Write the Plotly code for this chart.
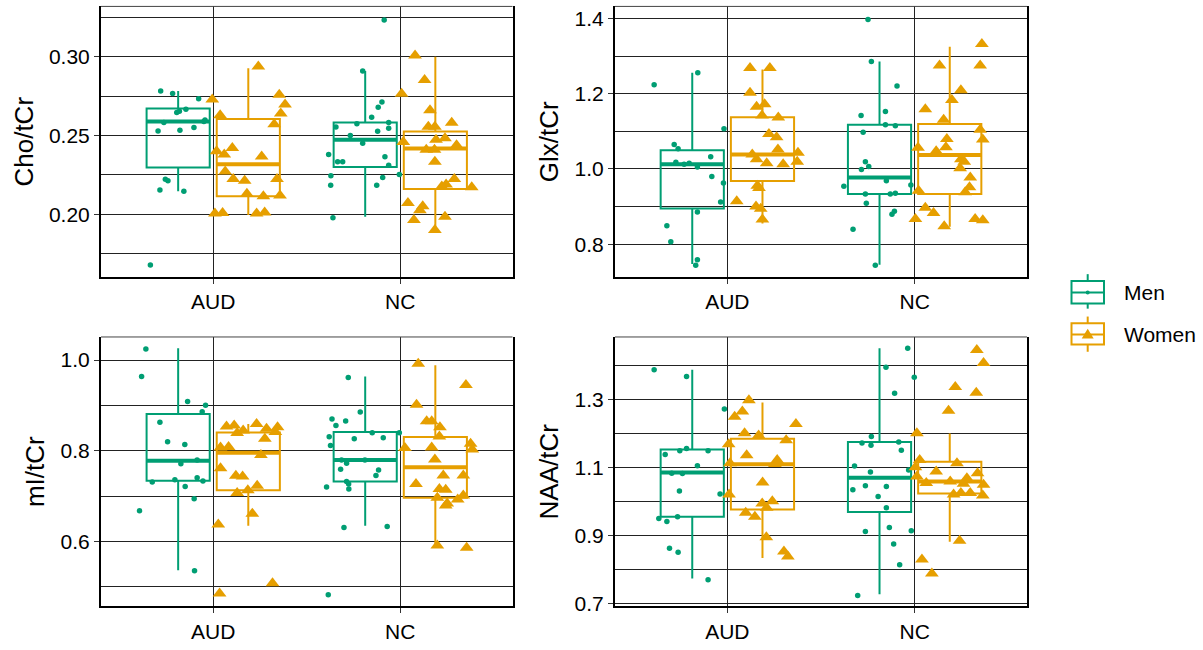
import plotly.graph_objects as go

CATEGORIES = ["AUD", "NC"]
GROUPS = ["Men", "Women"]
METRICS = ["Cho/tCr", "Glx/tCr", "mI/tCr", "NAA/tCr"]

# Box statistics per category (AUD, NC): [lower whisker, Q1, median, Q3, upper whisker]
CHO_MEN_BOX = [[0.2146, 0.2296, 0.2588, 0.2671, 0.2783], [0.1983, 0.2300, 0.2473, 0.2583, 0.2910]]
CHO_WOMEN_BOX = [[0.1994, 0.2113, 0.2317, 0.2604, 0.2927], [0.1900, 0.2160, 0.2417, 0.2525, 0.3000]]
GLX_MEN_BOX = [[0.7473, 0.8952, 1.0124, 1.0500, 1.2556], [0.7456, 0.9337, 0.9774, 1.1174, 1.2854]]
GLX_WOMEN_BOX = [[0.8550, 0.9678, 1.0387, 1.1375, 1.2644], [0.8462, 0.9337, 1.0369, 1.1192, 1.3248]]
MI_MEN_BOX = [[0.5370, 0.7340, 0.7783, 0.8812, 1.0260], [0.6348, 0.7326, 0.7797, 0.8413, 0.9638]]
MI_WOMEN_BOX = [[0.6348, 0.7130, 0.7957, 0.8406, 0.8594], [0.5913, 0.6964, 0.7638, 0.8304, 0.9884]]
NAA_MEN_BOX = [[0.7744, 0.9560, 1.0855, 1.1531, 1.3880], [0.7280, 0.9696, 1.0700, 1.1754, 1.4507]]
NAA_WOMEN_BOX = [[0.8343, 0.9773, 1.1097, 1.1850, 1.2913], [0.8826, 1.0237, 1.0594, 1.1174, 1.2000]]

# Jittered individual observations (x in category units: AUD = 1, NC = 2)
CHO_MEN_AUD_X = [0.719, 0.783, 0.922, 0.805, 0.819, 0.854, 0.736, 0.950, 0.705, 0.822, 0.897, 0.744, 0.758, 0.715, 0.843, 0.664, 0.956]
CHO_MEN_AUD_Y = [0.2783, 0.2766, 0.2733, 0.2646, 0.2654, 0.2666, 0.2583, 0.2588, 0.2529, 0.2533, 0.2550, 0.2221, 0.2213, 0.2154, 0.2146, 0.1677, 0.2598]
CHO_WOMEN_AUD_X = [0.995, 1.037, 1.241, 1.353, 1.384, 1.361, 1.326, 1.018, 1.059, 1.102, 1.064, 1.107, 1.168, 1.259, 1.341, 1.180, 1.268, 1.357, 1.009, 1.050, 1.232, 1.275]
CHO_WOMEN_AUD_Y = [0.2729, 0.2629, 0.2938, 0.2758, 0.2696, 0.2640, 0.2571, 0.2400, 0.2379, 0.2421, 0.2271, 0.2223, 0.2213, 0.2367, 0.2223, 0.2129, 0.2113, 0.2119, 0.2004, 0.2008, 0.2004, 0.2010]
CHO_MEN_NC_X = [1.914, 1.799, 1.902, 1.882, 1.847, 1.768, 1.656, 1.938, 1.938, 1.879, 1.733, 1.799, 1.617, 1.665, 1.692, 1.918, 1.938, 1.995, 1.629, 1.906, 1.628, 1.874, 1.640]
CHO_MEN_NC_Y = [0.3233, 0.2910, 0.2713, 0.2679, 0.2615, 0.2575, 0.2554, 0.2583, 0.2546, 0.2527, 0.2500, 0.2450, 0.2379, 0.2333, 0.2333, 0.2365, 0.2310, 0.2252, 0.2244, 0.2233, 0.2183, 0.2183, 0.1977]
CHO_WOMEN_NC_X = [2.079, 2.130, 2.007, 2.159, 2.275, 2.150, 2.185, 2.016, 2.191, 2.239, 2.301, 2.139, 2.183, 2.185, 2.289, 2.245, 2.222, 2.382, 2.041, 2.120, 2.105, 2.073, 2.239, 2.185]
CHO_WOMEN_NC_Y = [0.3008, 0.2852, 0.2765, 0.2660, 0.2581, 0.2556, 0.2556, 0.2458, 0.2473, 0.2483, 0.2438, 0.2410, 0.2410, 0.2333, 0.2223, 0.2188, 0.2175, 0.2171, 0.2071, 0.2050, 0.2025, 0.1963, 0.1983, 0.1900]

GLX_MEN_AUD_X = [0.609, 0.842, 0.982, 0.716, 0.737, 0.725, 0.769, 0.796, 0.840, 0.911, 0.917, 0.979, 0.964, 0.840, 0.677, 0.698, 0.840, 0.831]
GLX_MEN_AUD_Y = [1.224, 1.2556, 1.107, 1.065, 1.054, 1.0177, 1.0124, 1.015, 1.0054, 1.0325, 0.980, 0.9626, 0.912, 0.8856, 0.8488, 0.8068, 0.7587, 0.7438]
GLX_WOMEN_AUD_X = [1.121, 1.227, 1.121, 1.156, 1.199, 1.185, 1.272, 1.222, 1.263, 1.270, 1.133, 1.156, 1.210, 1.298, 1.377, 1.373, 1.160, 1.169, 1.050, 1.153, 1.178, 1.187]
GLX_WOMEN_AUD_Y = [1.268, 1.268, 1.2023, 1.1655, 1.1717, 1.142, 1.1367, 1.0929, 1.0842, 1.0518, 1.0387, 1.0255, 1.015, 1.0124, 1.043, 1.0194, 0.9556, 0.9494, 0.9144, 0.9004, 0.8943, 0.8654]
GLX_MEN_NC_X = [1.751, 1.769, 1.906, 1.844, 1.714, 1.844, 1.897, 1.725, 1.737, 1.755, 1.716, 1.622, 1.980, 1.849, 1.737, 1.870, 1.897, 1.742, 1.879, 1.892, 1.671, 1.790]
GLX_MEN_NC_Y = [1.3974, 1.2854, 1.2206, 1.1524, 1.1419, 1.1174, 1.1148, 1.0973, 1.0194, 1.0063, 0.9984, 0.9538, 0.9573, 0.9687, 0.9337, 0.9337, 0.9354, 0.9092, 0.8794, 0.8873, 0.8401, 0.7438]
GLX_WOMEN_NC_X = [2.359, 2.350, 2.133, 2.247, 2.199, 2.057, 2.155, 2.350, 2.172, 2.364, 2.167, 2.018, 2.115, 2.247, 2.265, 2.243, 2.297, 2.293, 2.270, 2.021, 2.057, 2.101, 2.004, 2.158, 2.323, 2.364]
GLX_WOMEN_NC_Y = [1.3318, 1.2749, 1.2749, 1.2093, 1.1830, 1.1585, 1.1305, 1.1043, 1.0798, 1.078, 1.0579, 1.0562, 1.0474, 1.0255, 1.0194, 1.0019, 0.9774, 0.9512, 0.9381, 0.9424, 0.8969, 0.8829, 0.8672, 0.848, 0.8672, 0.8637]

MI_MEN_AUD_X = [0.640, 0.617, 0.863, 0.959, 0.941, 0.715, 0.756, 0.848, 0.914, 0.827, 0.674, 0.795, 0.914, 0.945, 0.850, 0.898, 0.606, 0.900]
MI_MEN_AUD_Y = [1.0246, 0.9638, 0.9087, 0.9007, 0.8862, 0.863, 0.8203, 0.8138, 0.7797, 0.7717, 0.7312, 0.7362, 0.7406, 0.7333, 0.7217, 0.6942, 0.6681, 0.5355]
MI_WOMEN_AUD_X = [1.071, 1.112, 1.160, 1.128, 1.232, 1.285, 1.344, 1.332, 1.276, 1.039, 1.082, 1.255, 1.039, 1.121, 1.157, 1.235, 1.128, 1.185, 1.209, 1.027, 1.317, 1.034]
MI_WOMEN_AUD_Y = [0.8536, 0.8558, 0.8449, 0.8391, 0.8594, 0.8486, 0.8522, 0.8413, 0.8268, 0.8072, 0.8087, 0.7906, 0.7616, 0.7449, 0.7435, 0.7232, 0.7072, 0.713, 0.6616, 0.6377, 0.508, 0.4855]
MI_MEN_NC_X = [1.722, 1.786, 1.635, 1.708, 1.656, 1.620, 1.754, 1.909, 1.850, 1.995, 1.627, 1.686, 1.713, 1.811, 1.681, 1.884, 1.870, 1.713, 1.724, 1.606, 1.725, 1.699, 1.930, 1.615]
MI_MEN_NC_Y = [0.9616, 0.8855, 0.8703, 0.8659, 0.8558, 0.8312, 0.8268, 0.829, 0.8399, 0.8399, 0.8116, 0.7797, 0.7725, 0.7797, 0.7594, 0.758, 0.7457, 0.7326, 0.7268, 0.7203, 0.7159, 0.6312, 0.6333, 0.4826]
MI_WOMEN_NC_X = [2.096, 2.351, 2.087, 2.141, 2.168, 2.212, 2.209, 2.025, 2.168, 2.376, 2.385, 2.185, 2.230, 2.337, 2.084, 2.209, 2.243, 2.198, 2.243, 2.251, 2.307, 2.337, 2.198, 2.355]
MI_WOMEN_NC_Y = [0.992, 0.9449, 0.9014, 0.8652, 0.8652, 0.8522, 0.8319, 0.8065, 0.8072, 0.8159, 0.8029, 0.7812, 0.7457, 0.7457, 0.7268, 0.7159, 0.7145, 0.6964, 0.6797, 0.684, 0.6928, 0.7014, 0.5913, 0.5862]

NAA_MEN_AUD_X = [0.609, 0.782, 0.984, 0.668, 0.746, 0.782, 0.897, 0.840, 0.703, 0.760, 0.744, 0.961, 0.634, 0.677, 0.734, 0.691, 0.737, 0.897]
NAA_MEN_AUD_Y = [1.388, 1.3676, 1.272, 1.1386, 1.150, 1.156, 1.150, 1.1058, 1.0836, 1.0826, 1.0314, 1.0227, 0.9502, 0.9415, 0.956, 0.8633, 0.8517, 0.7705]
NAA_WOMEN_AUD_X = [1.115, 1.080, 1.039, 1.092, 1.167, 1.314, 1.366, 1.007, 1.103, 1.266, 1.254, 1.014, 1.188, 1.009, 1.240, 1.186, 1.210, 1.098, 1.147, 1.208, 1.302, 1.323]
NAA_WOMEN_AUD_Y = [1.2981, 1.2652, 1.2498, 1.2014, 1.1947, 1.1802, 1.2285, 1.1686, 1.1367, 1.1222, 1.1106, 1.1126, 1.0565, 1.0208, 1.0014, 0.9947, 0.9821, 0.9676, 0.956, 0.8952, 0.8536, 0.8391]
NAA_MEN_NC_X = [1.963, 1.847, 1.998, 1.893, 1.769, 1.915, 1.719, 1.767, 1.929, 1.679, 1.968, 1.764, 1.670, 1.737, 1.849, 1.805, 1.849, 1.737, 1.865, 1.982, 1.888, 1.920, 1.696]
NAA_MEN_NC_Y = [1.4507, 1.3947, 1.3657, 1.3184, 1.1918, 1.1754, 1.1725, 1.1657, 1.1512, 1.1048, 1.0932, 1.0874, 1.0353, 1.0469, 1.0449, 1.015, 0.9821, 0.9126, 0.9242, 0.9145, 0.8758, 0.815, 0.7242]
NAA_WOMEN_NC_X = [2.332, 2.368, 2.217, 2.329, 2.181, 2.012, 2.027, 2.226, 2.115, 2.004, 2.012, 2.062, 2.190, 2.279, 2.261, 2.336, 2.368, 2.208, 2.247, 2.297, 2.364, 2.240, 2.039, 2.092]
NAA_WOMEN_NC_Y = [1.4459, 1.4072, 1.3367, 1.3203, 1.2671, 1.2014, 1.1222, 1.1126, 1.0884, 1.101, 1.0739, 1.0546, 1.0594, 1.0691, 1.0527, 1.0836, 1.0498, 1.0208, 1.0256, 1.0256, 1.0179, 0.8855, 0.8304, 0.7889]

# Axis ticks
CHO_TICKS = [0.20, 0.25, 0.30]
CHO_MINOR = [0.175, 0.225, 0.275, 0.325]
GLX_TICKS = [0.8, 1.0, 1.2, 1.4]
GLX_MINOR = [0.7, 0.9, 1.1, 1.3]
MI_TICKS = [0.6, 0.8, 1.0]
MI_MINOR = [0.5, 0.7, 0.9]
NAA_TICKS = [0.7, 0.9, 1.1, 1.3]
NAA_MINOR = [0.8, 1.0, 1.2, 1.4]

# ---------------------------------------------------------------- styling
W, H = 1203, 650
FONT = "Liberation Sans, Arial, Helvetica, sans-serif"
COLORS = {"Men": "#009E73", "Women": "#E69F00"}
SYMBOLS = {"Men": ("circle", 5.5), "Women": ("triangle-up", 12)}
DODGE = 0.1875
BOX_W = 0.3375
GRID = "#222222"
TICK_SIZE = 21
TITLE_SIZE = 26

def px_x(p):
    return p / W

def px_y(p):
    return 1 - p / H

panels = [
    dict(title=METRICS[0], men_box=CHO_MEN_BOX, women_box=CHO_WOMEN_BOX,
         pts={"Men": [(CHO_MEN_AUD_X, CHO_MEN_AUD_Y), (CHO_MEN_NC_X, CHO_MEN_NC_Y)],
              "Women": [(CHO_WOMEN_AUD_X, CHO_WOMEN_AUD_Y), (CHO_WOMEN_NC_X, CHO_WOMEN_NC_Y)]},
         ticks=CHO_TICKS, minor=CHO_MINOR, fmt="{:.2f}", yrange=[0.160, 0.332],
         xdom=[px_x(101), px_x(512.5)], ydom=[px_y(281), px_y(6.5)]),
    dict(title=METRICS[1], men_box=GLX_MEN_BOX, women_box=GLX_WOMEN_BOX,
         pts={"Men": [(GLX_MEN_AUD_X, GLX_MEN_AUD_Y), (GLX_MEN_NC_X, GLX_MEN_NC_Y)],
              "Women": [(GLX_WOMEN_AUD_X, GLX_WOMEN_AUD_Y), (GLX_WOMEN_NC_X, GLX_WOMEN_NC_Y)]},
         ticks=GLX_TICKS, minor=GLX_MINOR, fmt="{:.1f}", yrange=[0.7126, 1.432],
         xdom=[px_x(615), px_x(1027)], ydom=[px_y(281), px_y(6.5)]),
    dict(title=METRICS[2], men_box=MI_MEN_BOX, women_box=MI_WOMEN_BOX,
         pts={"Men": [(MI_MEN_AUD_X, MI_MEN_AUD_Y), (MI_MEN_NC_X, MI_MEN_NC_Y)],
              "Women": [(MI_WOMEN_AUD_X, MI_WOMEN_AUD_Y), (MI_WOMEN_NC_X, MI_WOMEN_NC_Y)]},
         ticks=MI_TICKS, minor=MI_MINOR, fmt="{:.1f}", yrange=[0.457, 1.051],
         xdom=[px_x(101), px_x(512.5)], ydom=[px_y(615), px_y(341.7)]),
    dict(title=METRICS[3], men_box=NAA_MEN_BOX, women_box=NAA_WOMEN_BOX,
         pts={"Men": [(NAA_MEN_AUD_X, NAA_MEN_AUD_Y), (NAA_MEN_NC_X, NAA_MEN_NC_Y)],
              "Women": [(NAA_WOMEN_AUD_X, NAA_WOMEN_AUD_Y), (NAA_WOMEN_NC_X, NAA_WOMEN_NC_Y)]},
         ticks=NAA_TICKS, minor=NAA_MINOR, fmt="{:.1f}", yrange=[0.692, 1.484],
         xdom=[px_x(615), px_x(1027)], ydom=[px_y(615), px_y(341.7)]),
]

fig = go.Figure()
layout = {}
shapes = []
cat_pos = [i + 1 for i in range(len(CATEGORIES))]

for i, p in enumerate(panels):
    n = "" if i == 0 else str(i + 1)
    xa, ya = "x" + n, "y" + n
    for g, boxes, off in (("Men", p["men_box"], -DODGE), ("Women", p["women_box"], DODGE)):
        col = COLORS[g]
        centers = [c + off for c in cat_pos]
        fig.add_trace(go.Box(
            x=centers,
            lowerfence=[b[0] for b in boxes], q1=[b[1] for b in boxes],
            median=[b[2] for b in boxes], q3=[b[3] for b in boxes],
            upperfence=[b[4] for b in boxes],
            width=BOX_W, whiskerwidth=0, boxpoints=False,
            line=dict(color=col, width=2), fillcolor="rgba(0,0,0,0)",
            showlegend=False, hoverinfo="skip", xaxis=xa, yaxis=ya))
        mx, my = [], []
        for c, b in zip(centers, boxes):
            mx += [c - BOX_W / 2, c + BOX_W / 2, None]
            my += [b[2], b[2], None]
        fig.add_trace(go.Scatter(x=mx, y=my, mode="lines",
                                 line=dict(color=col, width=4),
                                 showlegend=False, hoverinfo="skip", xaxis=xa, yaxis=ya))
    for g in GROUPS:
        sym, size = SYMBOLS[g]
        for xs, ys in p["pts"][g]:
            fig.add_trace(go.Scatter(x=xs, y=ys, mode="markers",
                                     marker=dict(symbol=sym, size=size, color=COLORS[g],
                                                 line=dict(width=0)),
                                     showlegend=False, hoverinfo="skip", xaxis=xa, yaxis=ya))
    layout["xaxis" + n] = dict(
        domain=p["xdom"], anchor=ya, range=[0.4, 2.6],
        tickmode="array", tickvals=cat_pos, ticktext=CATEGORIES,
        showgrid=True, gridcolor=GRID, gridwidth=1, zeroline=False,
        showline=True, linecolor="black", linewidth=2, mirror=False,
        ticks="outside", ticklen=5, tickwidth=1.3, tickcolor="#333",
        tickfont=dict(size=TICK_SIZE, color="black", family=FONT))
    layout["yaxis" + n] = dict(
        domain=p["ydom"], anchor=xa, range=p["yrange"],
        tickmode="array", tickvals=p["ticks"], ticktext=[p["fmt"].format(t) for t in p["ticks"]],
        minor=dict(tickmode="array", tickvals=p["minor"], showgrid=True,
                   gridcolor=GRID, gridwidth=1, ticks=""),
        showgrid=True, gridcolor=GRID, gridwidth=1, zeroline=False,
        showline=True, linecolor="black", linewidth=2, mirror=True,
        ticks="outside", ticklen=5, tickwidth=1.3, tickcolor="#333",
        tickfont=dict(size=TICK_SIZE, color="black", family=FONT),
        title=dict(text=p["title"], font=dict(size=TITLE_SIZE, color="black", family=FONT), standoff=8))
    shapes.append(dict(type="line", xref=xa + " domain", yref=ya + " domain",
                       x0=0, x1=1, y0=1, y1=1, line=dict(color="#444", width=1)))

# manual legend (ggplot-style key glyphs)
annotations = []
legend_rows = [("Men", 278, 285, 296.7, 307.7, 313, 297), ("Women", 321, 327.7, 339.3, 349.3, 356.7, 339)]
kx0, kx1, kxc = 1071.5, 1104, 1087.7
for g, wt, bt, md, bb, wb, ty in legend_rows:
    col = COLORS[g]
    shapes.append(dict(type="line", xref="paper", yref="paper", x0=px_x(kxc), x1=px_x(kxc),
                       y0=px_y(wt), y1=px_y(bt), line=dict(color=col, width=2)))
    shapes.append(dict(type="line", xref="paper", yref="paper", x0=px_x(kxc), x1=px_x(kxc),
                       y0=px_y(bb), y1=px_y(wb), line=dict(color=col, width=2)))
    shapes.append(dict(type="rect", xref="paper", yref="paper", x0=px_x(kx0), x1=px_x(kx1),
                       y0=px_y(bb), y1=px_y(bt), line=dict(color=col, width=2)))
    shapes.append(dict(type="line", xref="paper", yref="paper", x0=px_x(kx0), x1=px_x(kx1),
                       y0=px_y(md), y1=px_y(md), line=dict(color=col, width=2)))
    if g == "Men":
        shapes.append(dict(type="circle", xref="paper", yref="paper",
                           x0=px_x(kxc - 2), x1=px_x(kxc + 2), y0=px_y(md + 2), y1=px_y(md - 2),
                           fillcolor=col, line=dict(width=0)))
    else:
        path = "M {:.5f} {:.5f} L {:.5f} {:.5f} L {:.5f} {:.5f} Z".format(
            px_x(kxc - 6), px_y(md + 4), px_x(kxc + 6), px_y(md + 4), px_x(kxc), px_y(md - 6))
        shapes.append(dict(type="path", xref="paper", yref="paper", path=path,
                           fillcolor=col, line=dict(width=0)))
    annotations.append(dict(text=g, xref="paper", yref="paper", x=px_x(1122), y=px_y(ty),
                            xanchor="left", yanchor="middle", showarrow=False,
                            font=dict(size=TICK_SIZE, color="black", family=FONT)))

fig.update_layout(
    width=W, height=H, margin=dict(l=0, r=0, t=0, b=0),
    paper_bgcolor="white", plot_bgcolor="white",
    font=dict(family=FONT, color="black"),
    boxmode="overlay", showlegend=False,
    shapes=shapes, annotations=annotations, **layout)

fig.write_html("out.html", include_plotlyjs=True, full_html=True,
               config={"displayModeBar": False},
               post_script="document.body.style.margin='0';")
